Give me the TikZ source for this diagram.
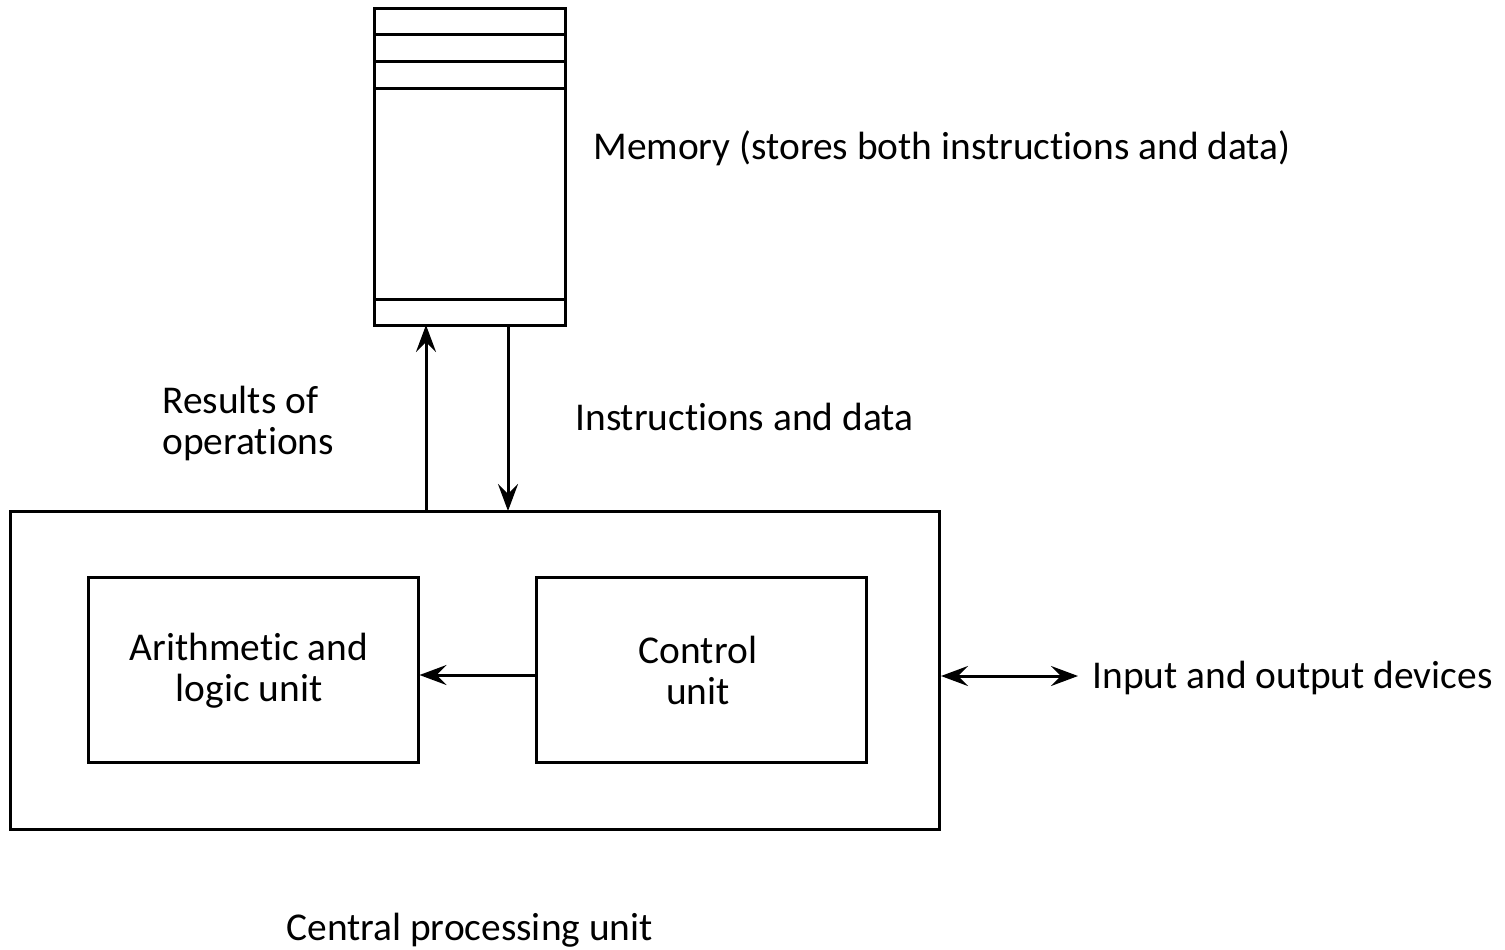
\documentclass[tikz,border=0pt]{standalone}
\usepackage{fontspec}
\setmainfont[RawFeature=-liga]{Carlito}
\usetikzlibrary{arrows.meta}
\begin{document}
\begin{tikzpicture}[x=0.5pt,y=-0.5pt,
  box/.style={draw,line width=1.5pt},
  tip/.tip={Stealth[length=13.5pt,width=10pt,inset=5pt]},
  conn/.style={line width=1.5pt,-tip},
  lbl/.style={font=\fontsize{19.7pt}{20.5pt}\selectfont,inner sep=0pt},
  lblc/.style={lbl,align=center}]
\useasboundingbox (0,0) rectangle (1505,949);
% memory
\draw[box] (374,8) rectangle (565,325);
\node[inner sep=0pt] (mem) at (469.5,166.5) [minimum width=95.5pt,minimum height=158.5pt] {};
\draw[line width=1.5pt] (374,34) -- (565,34);
\draw[line width=1.5pt] (374,61) -- (565,61);
\draw[line width=1.5pt] (374,88) -- (565,88);
\draw[line width=1.5pt] (374,299) -- (565,299);
% cpu
\node[box,minimum width=464.5pt,minimum height=159pt,inner sep=0pt] (cpu) at (474.5,670) {};
\node[box,minimum width=165pt,minimum height=92.5pt,inner sep=0pt] (alu) at (253,669.5) {};
\node[box,minimum width=165pt,minimum height=92.5pt,inner sep=0pt] (cu) at (701,669.5) {};
\node[lblc] (alut) at (249,671) {Arithmetic and\\logic unit};
\node[lblc] (cut) at (698,670) {Control\\unit};
\draw[conn] (cu.west |- 0,675) -- (alu.east |- 0,675);
% memory arrows
\coordinate (rb) at (426,511);
\coordinate (rt) at (426,325);
\draw[conn] (rb) -- (rt);
\coordinate (it) at (508,325);
\coordinate (ib) at (508,511);
\draw[conn] (it) -- (ib);
% io
\coordinate (ioa) at (941,676);
\coordinate (iob) at (1078,676);
\draw[line width=1.5pt,tip-tip] (ioa) -- (iob);
% labels
\node[lbl,anchor=west] (memlbl) at (593,148) {Memory (stores both instructions and data)};
\node[lbl,anchor=west,align=left] (reslbl) at (162,423) {Results of\\operations};
\node[lbl,anchor=west] (inslbl) at (575,417) {Instructions and data};
\node[lbl,anchor=west] (iolbl) at (1092,678) {Input and output devices};
\node[lbl,anchor=west] (cpulbl) at (286,930) {Central processing unit};
\end{tikzpicture}
\end{document}
